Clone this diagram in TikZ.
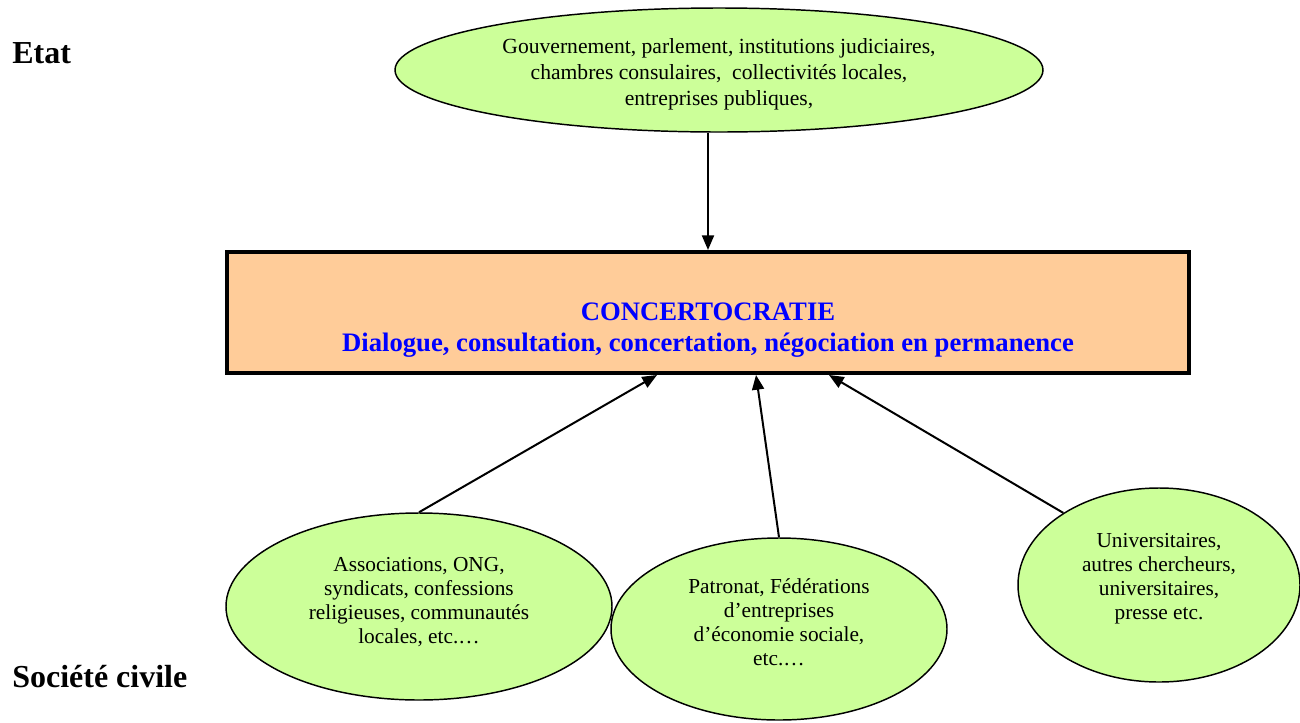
\documentclass[tikz,border=0pt]{standalone}
\usepackage{fontspec}
\setmainfont{Liberation Serif}
\usetikzlibrary{shapes.geometric,arrows.meta,calc}
\definecolor{ellgreen}{HTML}{CCFF99}
\definecolor{boxorange}{HTML}{FFCC99}
\definecolor{txtblue}{HTML}{0000FF}
\tikzset{
  actor/.style={ellipse, draw=black, line width=1.1pt, fill=ellgreen, inner sep=0pt, align=center,
    font=\fontsize{16pt}{18pt}\selectfont},
  mainbox/.style={rectangle, draw=black, line width=3pt, fill=boxorange, inner sep=0pt, align=center,
    text=txtblue, font=\fontsize{20pt}{23.25pt}\selectfont\bfseries},
  sidelabel/.style={anchor=base west, inner sep=0pt, font=\fontsize{24pt}{28pt}\selectfont\bfseries},
  link/.style={line width=1.5pt, -{Triangle[length=11pt,width=9pt]}}
}
\begin{document}
\begin{tikzpicture}[x=0.75pt,y=-0.75pt]
\useasboundingbox (0,0) rectangle (1300,722);

\node[sidelabel] (etat) at (12,63) {Etat};
\node[sidelabel] (civ) at (12,687) {Société civile};

\node[actor, minimum width=486pt, minimum height=93pt, font=\fontsize{16.2pt}{19.5pt}\selectfont] (gov) at (719,70)
  {\rule{0pt}{17.5pt}Gouvernement, parlement, institutions judiciaires,\\
   chambres consulaires,~ collectivités locales,\\
   entreprises publiques,};

\node[mainbox, minimum width=721.5pt, minimum height=90.75pt] (box) at (708,312.5)
  {\rule{0pt}{40pt}CONCERTOCRATIE\\
   Dialogue, consultation, concertation, négociation en permanence};

\node[actor, minimum width=289.5pt, minimum height=140.25pt] (assoc) at (419,606.5)
  {Associations, ONG,\\
   syndicats, confessions\\
   religieuses, communautés\\
   locales, etc.…\rule[-8.5pt]{0pt}{1pt}};

\node[actor, minimum width=252pt, minimum height=136.5pt] (patronat) at (779,629)
  {Patronat, Fédérations\\
   d’entreprises\\
   d’économie sociale,\\
   etc.…\rule[-11pt]{0pt}{1pt}};

\node[actor, minimum width=211.5pt, minimum height=145.5pt] (univ) at (1159,585)
  {Universitaires,\\
   autres chercheurs,\\
   universitaires,\\
   presse etc.\rule[-13pt]{0pt}{1pt}};

\draw[link] (gov.south -| box.north) -- (box.north);
\draw[link] (assoc.north) -- ($(box.south)+(-51,0)$);
\draw[link] (patronat.north) -- ($(box.south)+(48,0)$);
\draw[link] (univ.143) -- ($(box.south)+(121,0)$);
\end{tikzpicture}
\end{document}
